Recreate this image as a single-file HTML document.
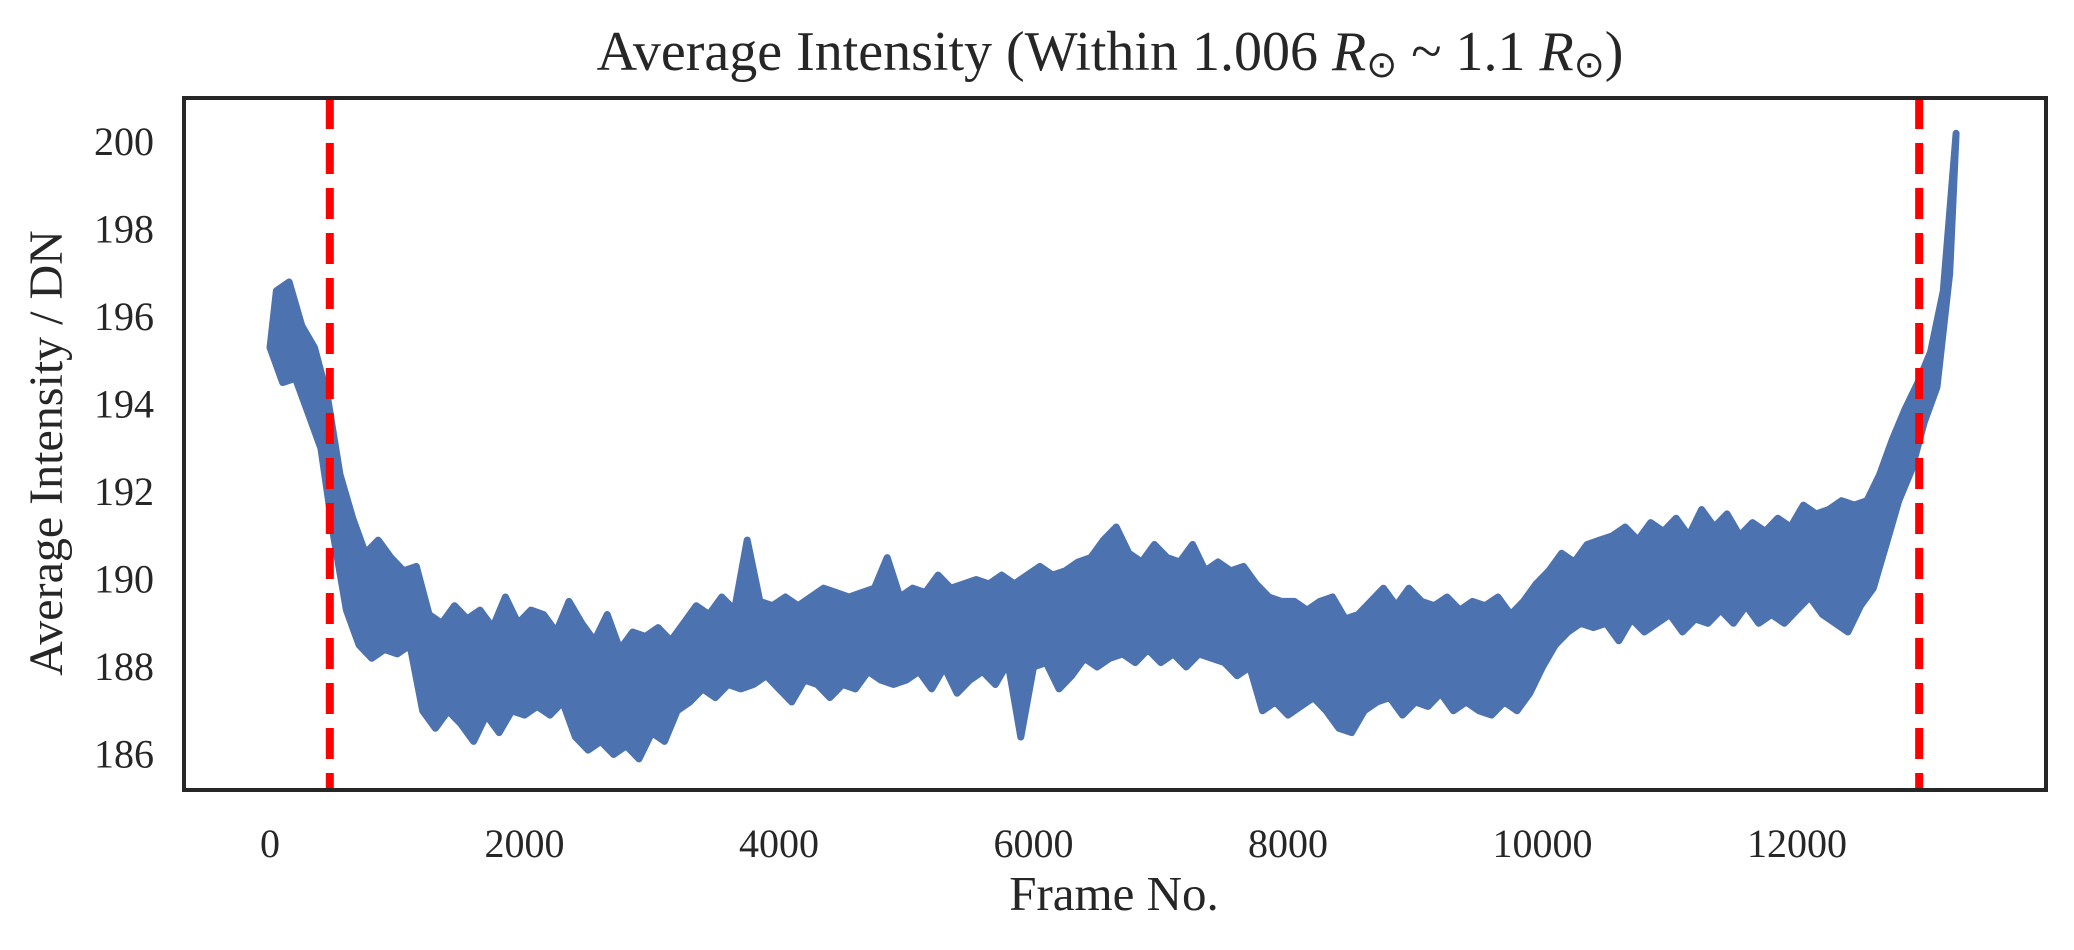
<!DOCTYPE html>
<html><head><meta charset="utf-8"><style>
html,body{margin:0;padding:0;background:#fff;}
svg{display:block;font-family:"Liberation Serif",serif;}
</style></head><body>
<svg id="chart" width="2074" height="950" viewBox="0 0 2074 950" xmlns="http://www.w3.org/2000/svg">
<text x="1110" y="70" font-size="56" text-anchor="middle" fill="#262626">Average Intensity (Within 1.006 <tspan font-style="italic">R</tspan><tspan font-size="37" dy="7">⊙</tspan><tspan dy="-7"> ~ 1.1 </tspan><tspan font-style="italic">R</tspan><tspan font-size="37" dy="7">⊙</tspan><tspan dy="-7">)</tspan></text>
<text transform="translate(62,453) rotate(-90)" font-size="48" text-anchor="middle" fill="#262626">Average Intensity / DN</text>
<text x="1114" y="910" font-size="49" text-anchor="middle" fill="#262626">Frame No.</text>
<g id="ticks"></g>
<g id="plot"></g>
<rect x="184" y="98" width="1862" height="692" fill="none" stroke="#262626" stroke-width="4"/>
</svg>
<script>
const xTicks=[0,2000,4000,6000,8000,10000,12000];
const yTicks=[186,188,190,192,194,196,198,200];
const markers=[470,12960];
const frameStep=50;
// alternating low/high samples every 50 frames
const intensity=[
195.3,196.6,194.5,196.8,194.6,195.8,193.8,195.3,193.0,194.2,
191.0,192.4,189.3,191.4,188.5,190.6,188.2,190.9,188.4,190.5,
188.3,190.2,188.5,190.3,187.0,189.2,186.6,189.0,187.0,189.4,
186.7,189.1,186.3,189.3,186.9,188.9,186.5,189.6,187.0,189.0,
186.9,189.3,187.1,189.2,186.9,188.8,187.2,189.5,186.4,189.0,
186.1,188.6,186.3,189.2,186.0,188.4,186.2,188.8,185.9,188.7,
186.5,188.9,186.3,188.6,187.0,189.0,187.2,189.4,187.5,189.2,
187.3,189.6,187.6,189.3,187.5,190.9,187.6,189.5,187.8,189.4,
187.5,189.6,187.2,189.4,187.7,189.6,187.6,189.8,187.3,189.7,
187.6,189.6,187.5,189.7,187.9,189.8,187.7,190.5,187.6,189.6,
187.7,189.8,187.9,189.7,187.5,190.1,188.0,189.8,187.4,189.9,
187.7,190.0,187.9,189.9,187.6,190.1,188.1,189.9,186.4,190.1,
188.0,190.3,188.1,190.1,187.5,190.2,187.8,190.4,188.2,190.5,
188.0,190.9,188.2,191.2,188.3,190.6,188.1,190.4,188.4,190.8,
188.1,190.5,188.3,190.4,188.0,190.8,188.3,190.2,188.2,190.4,
188.1,190.2,187.8,190.3,188.0,189.9,187.0,189.6,187.2,189.5,
186.9,189.5,187.1,189.3,187.3,189.5,187.0,189.6,186.6,189.1,
186.5,189.2,187.0,189.5,187.2,189.8,187.3,189.4,186.9,189.8,
187.2,189.5,187.1,189.4,187.4,189.6,187.0,189.3,187.2,189.5,
187.0,189.4,186.9,189.6,187.2,189.2,187.0,189.5,187.4,189.9,
188.0,190.2,188.5,190.6,188.8,190.4,189.0,190.8,188.9,190.9,
189.0,191.0,188.6,191.2,189.1,190.9,188.8,191.3,189.0,191.1,
189.2,191.4,188.8,191.0,189.1,191.6,189.0,191.2,189.3,191.5,
189.0,191.0,189.4,191.3,189.0,191.1,189.2,191.4,189.0,191.2,
189.3,191.7,189.6,191.5,189.2,191.6,189.0,191.8,188.8,191.7,
189.4,191.8,189.8,192.4,190.8,193.2,191.8,193.9,192.5,194.5,
193.6,195.2,194.4,196.6,197.0,200.2
];
const NS="http://www.w3.org/2000/svg";
const X0=184,X1=2046,Y0=98,Y1=790;
function xs(v){return 270+v*(1797-270)/12000;}
function ys(v){return 142+(200-v)*(317-142)/4;}
const tg=document.getElementById('ticks');
xTicks.forEach(t=>{const e=document.createElementNS(NS,'text');


e.setAttribute('x',xs(t));e.setAttribute('y',857);e.setAttribute('font-size','40');e.setAttribute('text-anchor','middle');e.setAttribute('fill','#262626');e.textContent=t;tg.appendChild(e);});
yTicks.forEach(t=>{const e=document.createElementNS(NS,'text');


e.setAttribute('x',154);e.setAttribute('y',ys(t)+13);e.setAttribute('font-size','40');e.setAttribute('text-anchor','end');e.setAttribute('fill','#262626');e.textContent=t;tg.appendChild(e);});
const pg=document.getElementById('plot');
// band from low/high samples
const hi=[],lo=[];
intensity.forEach((v,i)=>{const p=xs(i*frameStep).toFixed(1)+','+ys(v).toFixed(1);(i%2?hi:lo).push(p);});
const band=document.createElementNS(NS,'polygon');


band.setAttribute('points',hi.concat(lo.slice().reverse()).join(' '));
band.setAttribute('fill','#4c72b0');band.setAttribute('stroke','#4c72b0');band.setAttribute('stroke-width','7');band.setAttribute('stroke-linejoin','round');
pg.appendChild(band);
const pts=intensity.map((v,i)=>xs(i*frameStep).toFixed(1)+','+ys(v).toFixed(1)).join(' ');
const pl=document.createElementNS(NS,'polyline');


pl.setAttribute('points',pts);pl.setAttribute('fill','none');pl.setAttribute('stroke','#4c72b0');pl.setAttribute('stroke-width','6');pl.setAttribute('stroke-linejoin','round');pl.setAttribute('stroke-linecap','round');
pg.appendChild(pl);
markers.forEach(m=>{const l=document.createElementNS(NS,'line');


l.setAttribute('x1',xs(m));l.setAttribute('x2',xs(m));l.setAttribute('y1',Y0);l.setAttribute('y2',Y1);l.setAttribute('stroke','#ff0000');l.setAttribute('stroke-width','8');l.setAttribute('stroke-dasharray','31 14');pg.appendChild(l);});
</script>
</body></html>
